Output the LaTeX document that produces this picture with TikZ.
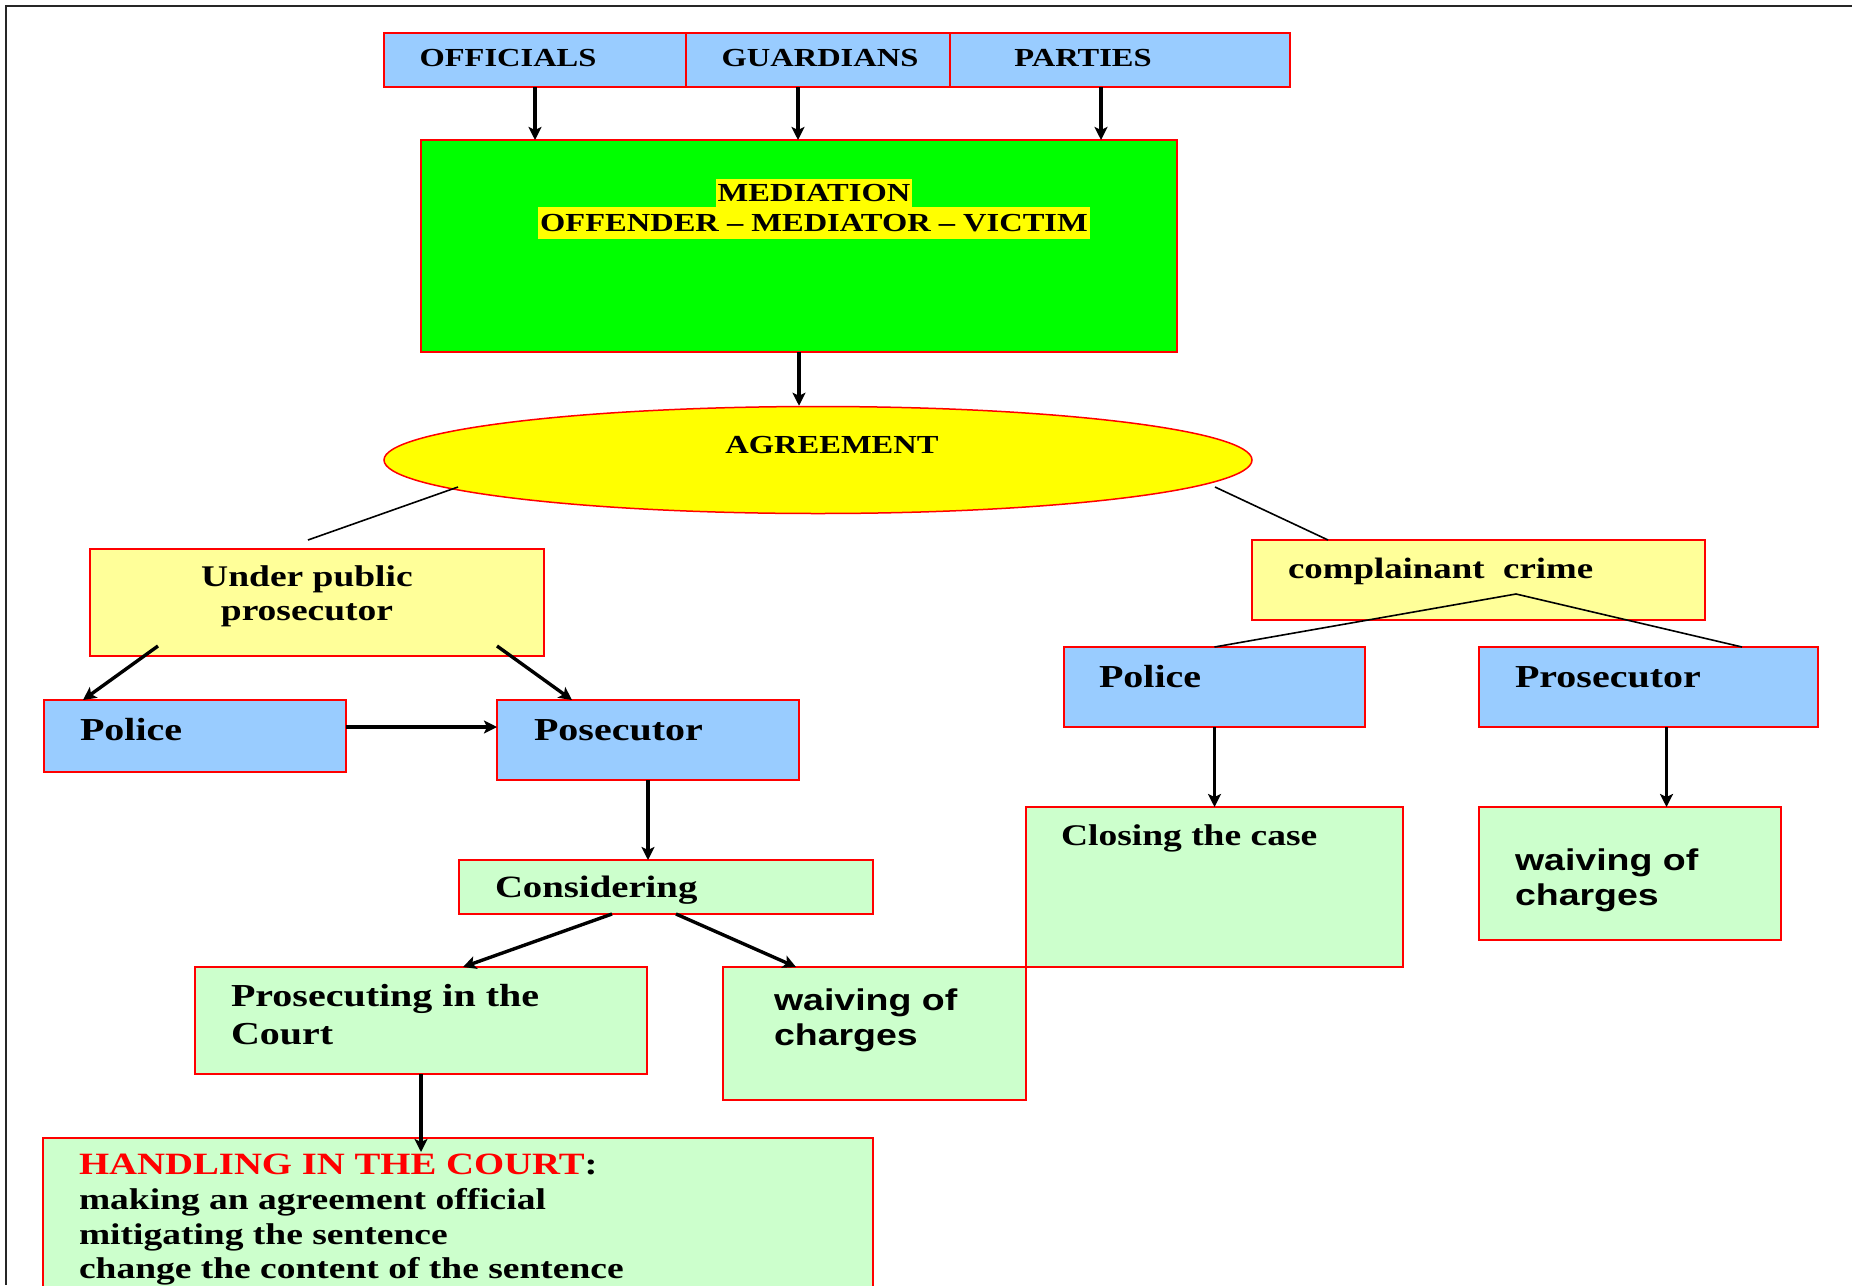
\documentclass[tikz,border=0pt]{standalone}
\usepackage{fontspec}
\setmainfont{Liberation Serif}[FakeStretch=1.25]
\newfontfamily\sansf{Liberation Sans}[FakeStretch=1.25]
\usetikzlibrary{arrows.meta,calc,shapes.geometric}
\definecolor{boxblue}{HTML}{99CCFF}
\definecolor{boxyel}{HTML}{FFFF99}
\definecolor{boxgrn}{HTML}{CCFFCC}
\definecolor{medgrn}{HTML}{00FF00}
\definecolor{brtyel}{HTML}{FFFF00}
\definecolor{bred}{HTML}{FF0000}
\tikzset{
  box/.style={draw=bred, line width=1.8pt, rectangle, anchor=north west, inner sep=0pt, outer sep=0pt},
  bluebox/.style={box, fill=boxblue},
  yelbox/.style={box, fill=boxyel},
  grnbox/.style={box, fill=boxgrn},
  txt/.style={anchor=base west, inner sep=0pt, outer sep=0pt, font=\bfseries\fontsize{#1}{#1}\selectfont},
  ctxt/.style={anchor=center, inner sep=0pt, outer sep=0pt, font=\bfseries\fontsize{#1}{#1}\selectfont},
  stxt/.style={anchor=base west, inner sep=0pt, outer sep=0pt, font=\sansf\bfseries\fontsize{#1}{#1}\selectfont},
  arr/.style={line width=3.4pt, -{Stealth[length=13pt,width=13pt,inset=3pt]}},
  link/.style={line width=1.6pt},
}
\begin{document}
\begin{tikzpicture}[x=1pt,y=-1pt]
\useasboundingbox (0,0) rectangle (1852,1285);
\clip (0,0) rectangle (1852,1285);
\draw[line width=2.2pt, black!85] (1852,6) -- (6,6) -- (6,1285);

% top row
\node[bluebox, line width=2.2pt, minimum width=302pt, minimum height=54pt] (ofc) at (384,33) {};
\node[bluebox, line width=2.2pt, minimum width=264pt, minimum height=54pt] (gua) at (686,33) {};
\node[bluebox, line width=2.2pt, minimum width=340pt, minimum height=54pt] (par) at (950,33) {};
\node[ctxt=26] (tofc) at (508,58) {OFFICIALS};
\node[ctxt=26] (tgua) at (820,58) {GUARDIANS};
\node[ctxt=26] (tpar) at (1083,58) {PARTIES};

% mediation
\node[box, fill=medgrn, minimum width=756pt, minimum height=212pt] (med) at (421,140) {};
\node[ctxt=26, fill=brtyel, inner xsep=2pt, minimum height=28pt] (tmed1) at (814,193) {MEDIATION};
\node[ctxt=26, fill=brtyel, inner xsep=2pt, minimum height=32pt] (tmed2) at (814,223) {OFFENDER -- MEDIATOR -- VICTIM};

% agreement
\node[ellipse, draw=bred, fill=brtyel, line width=1.5pt, minimum width=868pt, minimum height=107pt, inner sep=0pt] (agr) at (818,460) {};
\node[ctxt=26] (tagr) at (832,445) {AGREEMENT};

% left branch
\node[yelbox, minimum width=454pt, minimum height=107pt] (pub) at (90,549) {};
\node[anchor=base, inner sep=0pt, font=\bfseries\fontsize{30}{30}\selectfont] (tpub1) at (307,586) {Under public};
\node[anchor=base, inner sep=0pt, font=\bfseries\fontsize{30}{30}\selectfont] (tpub2) at (307,620) {prosecutor};

\node[bluebox, minimum width=302pt, minimum height=72pt] (pol1) at (44,700) {};
\node[txt=32] (tpol1) at (80,740) {Police};
\node[bluebox, minimum width=302pt, minimum height=80pt] (pos1) at (497,700) {};
\node[txt=32] (tpos1) at (534,740) {Posecutor};

\node[grnbox, minimum width=414pt, minimum height=54pt] (con) at (459,860) {};
\node[txt=31] (tcon) at (495,897) {Considering};

\node[grnbox, minimum width=452pt, minimum height=107pt] (prc) at (195,967) {};
\node[txt=32] (tprc1) at (231,1006) {Prosecuting in the};
\node[txt=32] (tprc2) at (231,1044) {Court};

\node[grnbox, minimum width=303pt, minimum height=133pt] (wv1) at (723,967) {};
\node[stxt=30] (twv1a) at (774,1010) {waiving of};
\node[stxt=30] (twv1b) at (774,1045) {charges};

\node[grnbox, minimum width=830pt, minimum height=200pt] (hnd) at (43,1138) {};
\node[txt=31] (thnd1) at (79,1174) {\textcolor{bred}{HANDLING IN THE COURT}:};
\node[txt=30] (thnd2) at (79,1209) {making an agreement official};
\node[txt=30] (thnd3) at (79,1244) {mitigating the sentence};
\node[txt=30] (thnd4) at (79,1278) {change the content of the sentence};

% right branch
\node[yelbox, minimum width=453pt, minimum height=80pt] (cmp) at (1252,540) {};
\node[txt=29.5] (tcmp) at (1288,578) {complainant~~crime};

\node[bluebox, minimum width=301pt, minimum height=80pt] (pol2) at (1064,647) {};
\node[txt=32] (tpol2) at (1099,687) {Police};
\node[bluebox, minimum width=339pt, minimum height=80pt] (pro2) at (1479,647) {};
\node[txt=32] (tpro2) at (1515,687) {Prosecutor};

\node[grnbox, minimum width=377pt, minimum height=160pt] (cls) at (1026,807) {};
\node[txt=30] (tcls) at (1061,845) {Closing the case};
\node[grnbox, minimum width=302pt, minimum height=133pt] (wv2) at (1479,807) {};
\node[stxt=30] (twv2a) at (1515,870) {waiving of};
\node[stxt=30] (twv2b) at (1515,905) {charges};

% connectors
\draw[arr] (ofc.south) -- (ofc.south |- med.north);
\draw[arr] ([xshift=-20pt]gua.south) -- ([xshift=-20pt]gua.south |- med.north);
\draw[arr] ([xshift=-19pt]par.south) -- ([xshift=-19pt]par.south |- med.north);
\draw[arr] (med.south) -- (med.south |- agr.north);

\draw[link] ([shift={(-360pt,-27pt)}]agr.center) -- ([shift={(218pt,9pt)}]pub.north west);
\draw[link] ([shift={(397pt,-27pt)}]agr.center) -- ([xshift=76pt]cmp.north west);

\draw[arr] ([shift={(68pt,10pt)}]pub.south west) -- ([xshift=39pt]pol1.north west);
\draw[arr] ([shift={(-47pt,10pt)}]pub.south east) -- ([xshift=75pt]pos1.north west);
\draw[arr] ([yshift=9pt]pol1.east) -- ([yshift=9pt]pol1.east -| pos1.west);
\draw[arr] (pos1.south) -- (pos1.south |- con.north);
\draw[arr] ([xshift=153pt]con.south west) -- ([xshift=268pt]prc.north west);
\draw[arr] ([xshift=217pt]con.south west) -- ([xshift=73pt]wv1.north west);
\draw[arr] (prc.south) -- ([yshift=-14pt]prc.south |- hnd.north);

\coordinate (apex) at ([shift={(264pt,26pt)}]cmp.south west);
\draw[link] (apex) -- (pol2.north);
\draw[link] (apex) -- ([xshift=-76pt]pro2.north east);
\draw[arr] (pol2.south) -- (pol2.south |- cls.north);
\draw[arr] ([xshift=18pt]pro2.south) -- ([xshift=18pt]pro2.south |- wv2.north);
\end{tikzpicture}
\end{document}
